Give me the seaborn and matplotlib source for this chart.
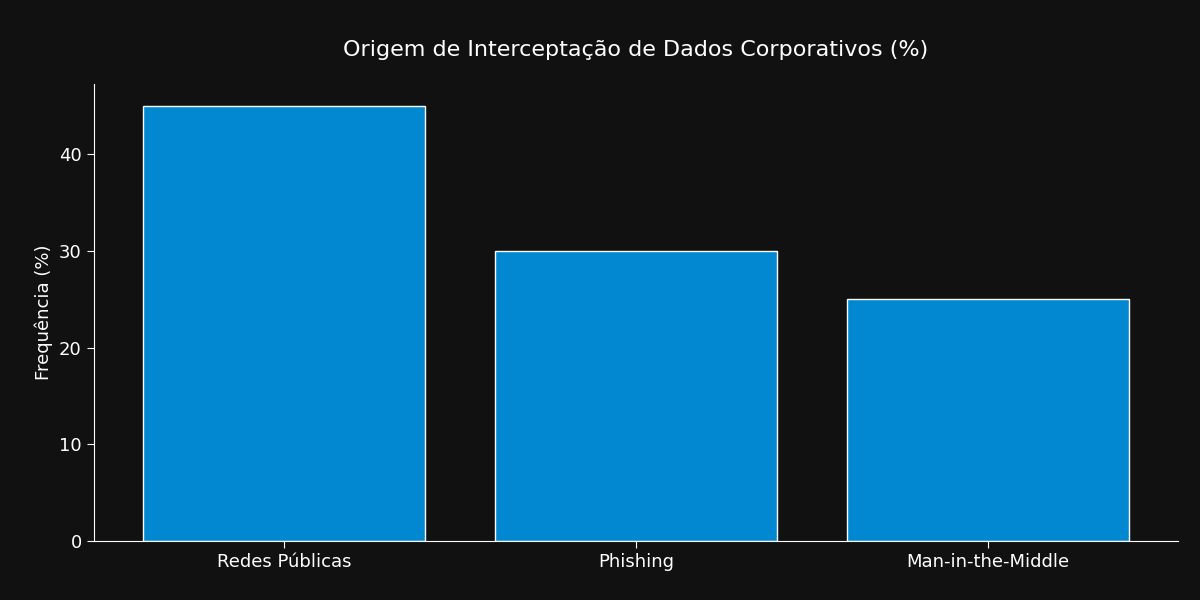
import matplotlib
matplotlib.use("Agg")
import matplotlib.pyplot as plt
import seaborn as sns

categories = ["Redes Públicas", "Phishing", "Man-in-the-Middle"]
values = [45, 30, 25]

sns.set_style("dark")
plt.rcParams['font.family'] = ['DejaVu Sans']
fig, ax = plt.subplots(figsize=(12, 6), dpi=100)
bg = "#111111"
fig.patch.set_facecolor(bg)
ax.set_facecolor(bg)
sns.barplot(x=categories, y=values, color="#0288D1", saturation=1, width=0.8, ax=ax)
ax.set_xlim(-0.54, 2.54)
ax.set_ylim(0, 47.25)
ax.set_title("Origem de Interceptação de Dados Corporativos (%)", color="white", fontsize=16, pad=20)
ax.set_ylabel("Frequência (%)", color="white", fontsize=13)
ax.set_xlabel("")
ax.tick_params(colors="white", labelsize=13, length=5, left=True, bottom=True)
for s in ["top", "right"]:
    ax.spines[s].set_visible(False)
for s in ["left", "bottom"]:
    ax.spines[s].set_color("white")
ax.grid(False)
fig.subplots_adjust(left=0.078, right=0.982, top=0.86, bottom=0.098)
fig.savefig("out.png", facecolor=bg)
